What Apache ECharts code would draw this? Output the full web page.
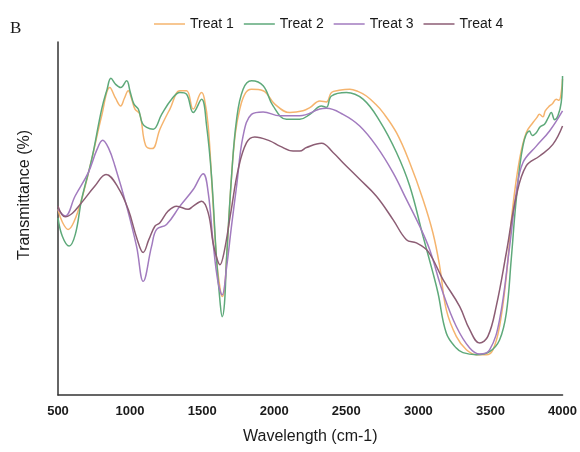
<!DOCTYPE html>
<html>
<head>
<meta charset="utf-8">
<script src="https://cdn.jsdelivr.net/npm/echarts@6/dist/echarts.min.js"></script>
<style>html,body{margin:0;padding:0;background:#fff}#c{width:580px;height:452px}</style>
</head>
<body>
<div id="c"></div>
<script>
const seriesNames = ['Treat 1', 'Treat 2', 'Treat 3', 'Treat 4'];
const xTicks = [500, 1000, 1500, 2000, 2500, 3000, 3500, 4000];

const wn1 = [500, 530, 571, 610, 664, 734, 803, 860, 900, 935, 960, 987, 1010, 1034, 1068, 1108, 1154, 1207, 1276, 1346, 1392, 1438, 1496, 1515, 1542, 1570, 1600, 1625, 1639, 1655, 1669, 1704, 1730, 1761, 1800, 1842, 1923, 2004, 2108, 2200, 2247, 2316, 2362, 2397, 2450, 2524, 2580, 2639, 2700, 2755, 2848, 2940, 3032, 3101, 3148, 3194, 3263, 3333, 3402, 3471, 3517, 3563, 3610, 3653, 3702, 3748, 3795, 3820, 3840, 3864, 3880, 3910, 3930, 3956, 3975, 3991, 4000];
const t1 = [52.6, 49, 46.9, 49, 55.4, 66.8, 79.1, 87.1, 84, 81.9, 84, 86.2, 84, 81.0, 79.5, 70.7, 69.8, 75.3, 81.0, 86.2, 86.2, 81.0, 85.7, 84, 76.2, 58, 38.4, 30, 27.9, 30, 38.4, 62, 74, 81, 85.5, 86.6, 86.2, 82.4, 80.0, 80.5, 81.4, 83.3, 83.0, 85.7, 86.3, 86.6, 86.0, 84.7, 82.5, 80.0, 74.3, 65.8, 55.4, 45.9, 36.4, 24.1, 16.6, 12.8, 11.4, 11.4, 12.8, 19.4, 33.6, 52.6, 66.8, 74.3, 77.2, 78.5, 79.5, 78.8, 80.5, 81.9, 82.5, 83.8, 83.5, 85.7, 89.5];

const wn2 = [500, 530, 577, 620, 664, 734, 803, 840, 867, 900, 935, 976, 1000, 1027, 1057, 1085, 1115, 1161, 1219, 1288, 1346, 1392, 1438, 1496, 1531, 1565, 1600, 1625, 1639, 1655, 1669, 1704, 1739, 1784, 1842, 1923, 1992, 2085, 2177, 2247, 2328, 2362, 2397, 2501, 2616, 2732, 2848, 2940, 3032, 3101, 3136, 3194, 3263, 3309, 3402, 3494, 3563, 3610, 3644, 3679, 3725, 3771, 3790, 3818, 3845, 3875, 3900, 3922, 3945, 3968, 3991, 4000];
const t2 = [50.2, 45, 42.2, 45.5, 55.4, 66.8, 81.0, 86.5, 89.7, 88, 87.1, 89.0, 86, 82.4, 81.0, 77, 75.8, 75.3, 79.5, 83.8, 85.7, 85.2, 80.0, 83.8, 76.2, 62.0, 38.4, 26, 22.2, 26, 38.4, 62.0, 78.1, 86.6, 89.0, 87.6, 81.9, 78.1, 78.1, 79.5, 81.9, 81.5, 84.7, 85.7, 83.8, 77.6, 68.7, 59.2, 45.0, 34.6, 28.9, 17.5, 13.3, 12.0, 11.4, 12.3, 15.6, 23.2, 38.4, 55.4, 70.5, 74.8, 73.5, 74.3, 76.0, 76.7, 78.5, 80.0, 78.0, 79.1, 82.9, 90.4];

const wn3 = [500, 550, 618, 710, 770, 810, 850, 895, 976, 1045, 1091, 1149, 1184, 1253, 1346, 1438, 1507, 1542, 1576, 1610, 1639, 1669, 1704, 1739, 1784, 1842, 1923, 2039, 2177, 2316, 2362, 2477, 2593, 2709, 2824, 2917, 3009, 3078, 3171, 3263, 3356, 3425, 3494, 3563, 3633, 3679, 3725, 3818, 3910, 4000];
const t3 = [52.6, 50.7, 56.3, 63.0, 69.5, 72.2, 70, 64.9, 53.5, 42.1, 32.2, 42.1, 46.9, 48.3, 53.5, 58.2, 62.7, 57.3, 43.1, 32, 28.4, 36, 48, 59.2, 73.4, 79.5, 80.2, 79.1, 79.1, 81.0, 81.2, 79.5, 76.2, 70.5, 63.0, 55.4, 47.8, 41.2, 28.9, 19.4, 13.3, 11.6, 12.8, 21.3, 42.1, 57.3, 65.8, 70.5, 74.8, 80.5];

const wn4 = [500, 550, 600, 664, 756, 833, 918, 987, 1050, 1091, 1130, 1172, 1207, 1264, 1323, 1403, 1438, 1496, 1542, 1576, 1600, 1623, 1650, 1700, 1750, 1808, 1865, 1969, 2039, 2131, 2177, 2224, 2328, 2408, 2477, 2593, 2709, 2824, 2917, 2986, 3067, 3171, 3286, 3356, 3425, 3482, 3540, 3610, 3679, 3748, 3841, 3933, 4000];
const t4 = [53.5, 50.5, 51.5, 54.5, 59.2, 62.5, 58.7, 52.6, 44, 40.4, 44, 47.8, 48.8, 52.1, 53.5, 52.6, 53.5, 54.9, 51.6, 43, 39, 36.9, 40, 52, 63.9, 71.5, 73.1, 72.0, 70.5, 69.1, 69.1, 70.1, 71.3, 68.7, 65.8, 61.1, 56.3, 49.7, 44.0, 43.1, 40.7, 32.7, 25.1, 18.5, 14.7, 16.6, 25.1, 40.3, 56.3, 64.9, 67.7, 71.0, 76.2];

const colors = ['#f5b46e', '#5ea97a', '#a27bbf', '#8c5d74'];

function zip(xs, ys) {
  const n = Math.min(xs.length, ys.length);
  const out = [];
  for (let i = 0; i < n; i++) out.push([xs[i], ys[i]]);
  return out;
}
const allX = [wn1, wn2, wn3, wn4];
const allY = [t1, t2, t3, t4];

const chart = echarts.init(document.getElementById('c'), null, {renderer: 'canvas'});
chart.setOption({
  animation: false,
  backgroundColor: '#fff',
  color: colors,
  legend: {
    top: 12,
    left: 149,
    icon: 'rect',
    itemWidth: 31,
    itemHeight: 1.5,
    itemGap: 10,
    textStyle: {fontFamily: 'Liberation Sans, Arial, sans-serif', fontSize: 14, color: '#1a1a1a'},
    data: seriesNames
  },
  grid: {left: 58, right: 17, top: 42, bottom: 57, containLabel: false},
  xAxis: {
    type: 'value',
    min: xTicks[0],
    max: xTicks[xTicks.length - 1],
    interval: 500,
    axisLine: {show: true, lineStyle: {color: '#333', width: 1.5}},
    axisTick: {show: false},
    splitLine: {show: false},
    axisLabel: {fontFamily: 'Liberation Sans, Arial, sans-serif', fontSize: 13, color: '#1a1a1a', margin: 10, fontWeight: 'bold',
      formatter: v => String(v)},
    name: 'Wavelength (cm-1)',
    nameLocation: 'middle',
    nameGap: 34,
    nameTextStyle: {fontFamily: 'Liberation Sans, Arial, sans-serif', fontSize: 16, color: '#1a1a1a'}
  },
  yAxis: {
    type: 'value',
    min: 0,
    max: 100,
    axisLine: {show: true, lineStyle: {color: '#333', width: 1.5}},
    axisTick: {show: false},
    axisLabel: {show: false},
    splitLine: {show: false}
  },
  graphic: [
    {type: 'text', left: 10, top: 20, style: {text: 'B', font: '17px "Liberation Serif", "DejaVu Serif", serif', fill: '#1a1a1a'}},
    {type: 'text', x: 25, y: 195, rotation: Math.PI / 2,
     style: {text: 'Transmittance (%)', font: '16px "Liberation Sans", Arial, sans-serif', fill: '#1a1a1a', textAlign: 'center', textVerticalAlign: 'middle'}}
  ],
  series: seriesNames.map((n, i) => ({
    name: n,
    type: 'line',
    symbol: 'none',
    smooth: 0.4,
    lineStyle: {width: 1.5, color: colors[i]},
    itemStyle: {color: colors[i]},
    data: zip(allX[i], allY[i])
  }))
});
</script>
</body>
</html>
